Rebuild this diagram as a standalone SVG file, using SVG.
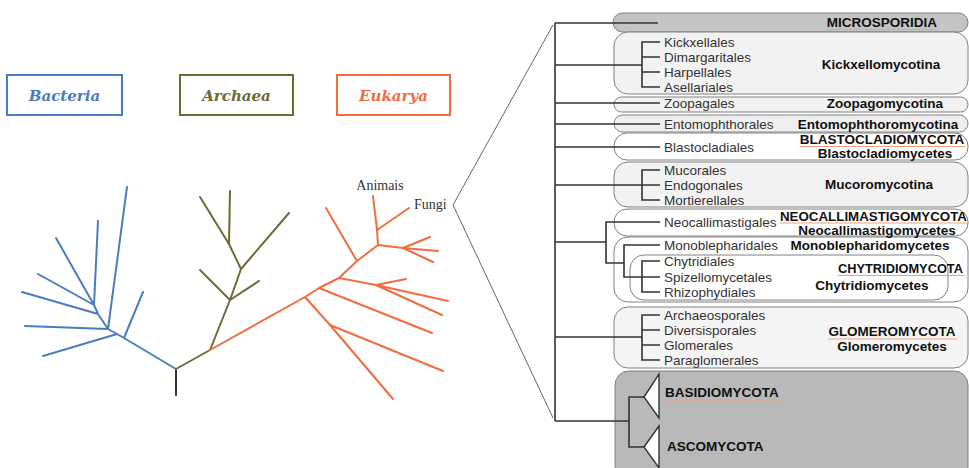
<svg xmlns="http://www.w3.org/2000/svg" width="969" height="468" viewBox="0 0 969 468">
<style>
.dom{font-family:"DejaVu Serif",serif;font-weight:bold;font-style:italic;font-size:15px;text-anchor:middle}
.dbox{fill:#fff;stroke-width:2}
.bac{stroke:#4a7cc3}.arc{stroke:#6e6a34}.euk{stroke:#f26d3d}
.tree path{fill:none;stroke-width:2;stroke-linecap:round;stroke-linejoin:round}
.lbl{font-family:"Liberation Serif",serif;font-size:14px;fill:#333}
.ord{font-family:"Liberation Sans",Arial,sans-serif;font-size:13.5px;fill:#333}
.bold{font-family:"Liberation Sans",Arial,sans-serif;font-size:13.5px;font-weight:bold;fill:#111}
.mid{text-anchor:middle}
.box{stroke:#808080;stroke-width:1}
.con{fill:none;stroke:#333;stroke-width:1.6}
.ul{stroke:#f0a078;stroke-width:1.2}
.tri{fill:#fff;stroke:#333;stroke-width:1.4}
</style>
<g id="domains">
<g id="bacteria"><rect class="dbox bac" x="7" y="75" width="115" height="40"/><text class="dom" x="64.5" y="101" fill="#4a7cc3">Bacteria</text></g>
<g id="archaea"><rect class="dbox arc" x="180" y="75" width="113" height="40"/><text class="dom" x="236.5" y="101" fill="#6e6a34">Archaea</text></g>
<g id="eukarya"><rect class="dbox euk" x="337" y="75" width="113" height="40"/><text class="dom" x="393.5" y="101" fill="#f26d3d">Eukarya</text></g>
</g>
<g id="tree" class="tree">
<path style="stroke:#333" d="M176 369V395"/>
<path class="bac" d="M176 369L124 338L117 334L108 329L98 314L94 305M124 338L143 292M117 334L43 356M108 329L25 326M108 329L127 187M98 314L22 292M94 305L38 274M94 305L56 238M94 305L98 221"/>
<path class="arc" d="M176 369L210 350L230 300L241 269L229 244L200 197M229 244L230 191M241 269L289 213M230 300L200 270M230 300L259 281"/>
<path class="euk" d="M210 350L305 297L319 288L339 278L357 261L378 245L377 230L373 196M377 230L409 208M378 245L403 248L438 251M403 248L430 237M403 248L433 262M357 261L326 208M339 278L376 285L448 301M376 285L406 279M376 285L442 315M319 288L432 333M305 297L330 325L393 399M330 325L443 371"/>
</g>
<g id="labels">
<text class="lbl mid" x="380" y="190">Animais</text>
<text class="lbl" x="414" y="209">Fungi</text>
</g>
<g id="boxes">
<rect id="b-micro" class="box" x="613" y="13" width="355" height="19" rx="9.5" fill="#c4c4c4"/>
<rect id="b-kick" class="box" x="614" y="32" width="354" height="62" rx="14" fill="#f2f2f2"/>
<rect id="b-zoop" class="box" x="614" y="97" width="354" height="15" rx="7.5" fill="#f2f2f2"/>
<rect id="b-ento" class="box" x="614" y="115" width="354" height="17" rx="8.5" fill="#efefef"/>
<rect id="b-blas" class="box" x="614" y="133" width="354" height="27" rx="13" fill="#fff"/>
<rect id="b-muco" class="box" x="614" y="162" width="354" height="45" rx="14" fill="#f2f2f2"/>
<rect id="b-neo" class="box" x="614" y="209" width="354" height="27" rx="13" fill="#fff"/>
<rect id="b-mono" class="box" x="614" y="237" width="354" height="65" rx="14" fill="#fff"/>
<rect id="b-chyt" class="box" x="630" y="255" width="318" height="45" rx="14" fill="#fff"/>
<rect id="b-glom" class="box" x="614" y="307" width="354" height="61" rx="14" fill="#f4f4f4"/>
<rect id="b-dik" class="box" x="615" y="371" width="353" height="110" rx="14" fill="#b9b9b9"/>
</g>
<g id="connectors">
<path class="con" style="stroke:#666;stroke-width:1" d="M553 25L453 205L553 418"/>
<path class="con" d="M555 23V421M555 23H658M555 65H642M555 103H660M555 124H660M555 147H660M555 185H642M555 242H606M555 337H642M555 421H629"/>
<path class="con" d="M660 42H642V87H660M642 57H660M642 72H660"/>
<path class="con" d="M660 170H642V200H660M642 185H660"/>
<path class="con" d="M660 222H606V263H624M660 245H624V277H642M660 261H642V292H660M642 277H660"/>
<path class="con" d="M660 315H642V360H660M642 330H660M642 345H660"/>
<path class="con" d="M644 397H629V447H644"/>
<polygon class="tri" points="644,397 659,374 659,418"/>
<polygon class="tri" points="644,447 659,426 659,468"/>
</g>
<g id="orders">
<text class="ord" x="664" y="46.8">Kickxellales</text>
<text class="ord" x="664" y="61.8">Dimargaritales</text>
<text class="ord" x="664" y="76.8">Harpellales</text>
<text class="ord" x="664" y="91.8">Asellariales</text>
<text class="ord" x="664" y="107.8">Zoopagales</text>
<text class="ord" x="664" y="128.8">Entomophthorales</text>
<text class="ord" x="664" y="151.8">Blastocladiales</text>
<text class="ord" x="664" y="174.8">Mucorales</text>
<text class="ord" x="664" y="189.8">Endogonales</text>
<text class="ord" x="664" y="204.8">Mortierellales</text>
<text class="ord" x="664" y="226.8">Neocallimastigales</text>
<text class="ord" x="664" y="249.8">Monoblepharidales</text>
<text class="ord" x="664" y="265.8">Chytridiales</text>
<text class="ord" x="664" y="281.8">Spizellomycetales</text>
<text class="ord" x="664" y="296.8">Rhizophydiales</text>
<text class="ord" x="664" y="319.8">Archaeosporales</text>
<text class="ord" x="664" y="334.8">Diversisporales</text>
<text class="ord" x="664" y="349.8">Glomerales</text>
<text class="ord" x="664" y="364.8">Paraglomerales</text>
</g>
<g id="taxa">
<text class="bold mid" x="882" y="27">MICROSPORIDIA</text>
<line class="ul" x1="827" y1="29.5" x2="937" y2="29.5"/>
<text class="bold mid" x="881" y="69">Kickxellomycotina</text>
<text class="bold mid" x="885" y="108">Zoopagomycotina</text>
<text class="bold mid" x="878" y="128.5">Entomophthoromycotina</text>
<text class="bold mid" x="882" y="144">BLASTOCLADIOMYCOTA</text>
<line class="ul" x1="800" y1="146.5" x2="965" y2="146.5"/>
<text class="bold mid" x="885" y="157.5">Blastocladiomycetes</text>
<text class="bold mid" x="879" y="188.5">Mucoromycotina</text>
<text class="bold" x="780" y="220.5" textLength="187" lengthAdjust="spacingAndGlyphs">NEOCALLIMASTIGOMYCOTA</text>
<line class="ul" x1="780" y1="223" x2="967" y2="223"/>
<text class="bold" x="838" y="273" textLength="125" lengthAdjust="spacingAndGlyphs">CHYTRIDIOMYCOTA</text>
<line class="ul" x1="838" y1="275.5" x2="964" y2="275.5"/>
<text class="bold mid" x="877" y="235">Neocallimastigomycetes</text>
<text class="bold mid" x="870" y="250">Monoblepharidomycetes</text>
<text class="bold mid" x="872" y="289.5">Chytridiomycetes</text>
<text class="bold mid" x="892" y="336">GLOMEROMYCOTA</text>
<line class="ul" x1="828" y1="339" x2="957" y2="339"/>
<text class="bold mid" x="892" y="350.5">Glomeromycetes</text>
<text class="bold" x="665" y="397">BASIDIOMYCOTA</text>
<line class="ul" x1="665" y1="400" x2="779" y2="400"/>
<text class="bold" x="667" y="451">ASCOMYCOTA</text>
<line class="ul" x1="667" y1="453.5" x2="763" y2="453.5"/>
</g>
</svg>
